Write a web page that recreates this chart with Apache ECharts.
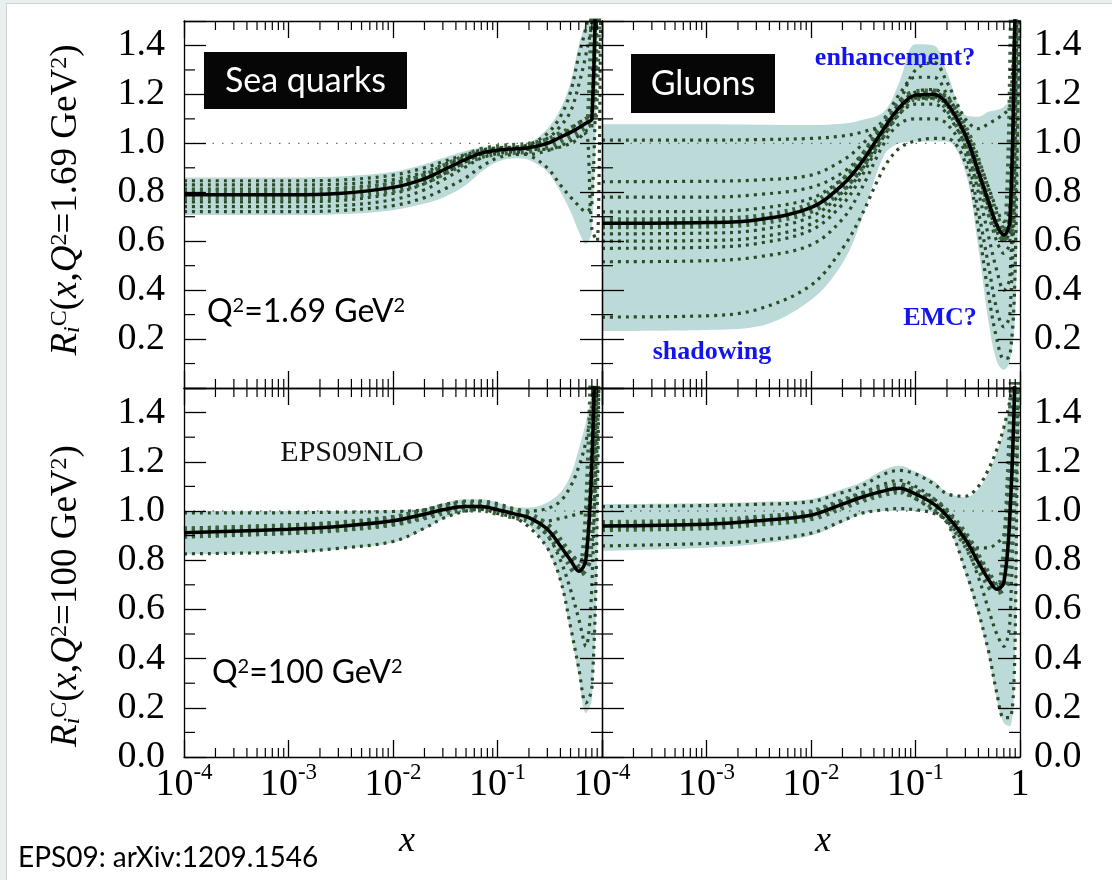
<!DOCTYPE html>
<html><head><meta charset="utf-8">
<script src="https://cdn.jsdelivr.net/npm/echarts@6/dist/echarts.min.js"></script>
<style>
html,body{margin:0;padding:0;background:#e9eeee;}
#bg{position:absolute;left:6px;top:3px;width:1106px;height:877px;background:#fff;border-left:1px solid #cdd5d5;border-top:1px solid #cdd5d5;}
#c{position:absolute;left:0;top:0;width:1112px;height:880px;}
</style>
</head><body><div id="bg"></div><div id="c"></div>
<script>
// ---------------- data ----------------
const xs = [1e-4, 1e-3, 3e-3, 0.01, 0.02, 0.03, 0.05, 0.07, 0.1, 0.15, 0.2, 0.3, 0.4, 0.5, 0.6, 0.7, 0.8, 0.9, 1.0];

// Sea quarks, Q^2 = 1.69 GeV^2
const tlCentral = [0.79, 0.79, 0.795, 0.82, 0.855, 0.89, 0.935, 0.96, 0.972, 0.978, 0.982, 1.0, 1.025, 1.045, 1.064, 1.082, 1.1, 2.0, 3.0];
const tlUpper   = [0.86, 0.86, 0.864, 0.884, 0.915, 0.94, 0.97, 0.982, 0.988, 0.99, 1.0, 1.06, 1.14, 1.25, 1.4, 1.5, 1.6, 2.0, 3.0];
const tlLower   = [0.707, 0.707, 0.71, 0.727, 0.754, 0.778, 0.83, 0.884, 0.925, 0.939, 0.932, 0.884, 0.802, 0.721, 0.639, 0.59, 0.64, 1.4, 2.5];
const tlSets = [
  [0.847, 0.847, 0.85, 0.87, 0.9, 0.925, 0.955, 0.972, 0.982, 0.985, 0.995, 1.04, 1.11, 1.21, 1.36, 1.47, 1.6, 2.0, 3.0],
  [0.83, 0.83, 0.833, 0.852, 0.882, 0.912, 0.946, 0.966, 0.977, 0.982, 0.99, 1.02, 1.07, 1.13, 1.24, 1.36, 1.5, 2.0, 3.0],
  [0.813, 0.813, 0.817, 0.838, 0.868, 0.9, 0.94, 0.963, 0.975, 0.98, 0.985, 1.005, 1.035, 1.06, 1.085, 1.1, 1.13, 2.0, 3.0],
  [0.761, 0.761, 0.766, 0.795, 0.835, 0.873, 0.925, 0.955, 0.968, 0.975, 0.975, 0.975, 0.985, 1.0, 1.02, 1.05, 1.07, 2.0, 3.0],
  [0.741, 0.741, 0.745, 0.77, 0.81, 0.85, 0.905, 0.94, 0.958, 0.965, 0.952, 0.9, 0.83, 0.78, 0.745, 0.72, 0.75, 1.6, 3.0],
  [0.721, 0.721, 0.725, 0.745, 0.778, 0.81, 0.86, 0.905, 0.94, 0.955, 0.955, 0.97, 0.99, 1.01, 1.03, 1.04, 0.65, 0.6, 3.0]
];

// Gluons, Q^2 = 1.69 GeV^2
const trCentral = [0.673, 0.676, 0.687, 0.737, 0.83, 0.918, 1.061, 1.146, 1.197, 1.2, 1.163, 1.034, 0.884, 0.761, 0.666, 0.625, 0.68, 1.6, 3.0];
const trUpper   = [1.078, 1.078, 1.076, 1.075, 1.08, 1.094, 1.13, 1.25, 1.405, 1.4, 1.29, 1.116, 1.109, 1.129, 1.136, 1.15, 1.18, 1.6, 3.0];
const trLower   = [0.233, 0.237, 0.25, 0.36, 0.51, 0.68, 0.95, 1.0, 1.007, 1.007, 1.007, 0.884, 0.571, 0.271, 0.108, 0.074, 0.108, 0.3, 1.0];
const trSets = [
  [1.013, 1.013, 1.015, 1.02, 1.03, 1.045, 1.08, 1.17, 1.3, 1.33, 1.25, 1.1, 1.06, 1.08, 1.1, 1.12, 1.15, 1.6, 3.0],
  [0.843, 0.845, 0.85, 0.87, 0.93, 0.99, 1.1, 1.2, 1.27, 1.27, 1.2, 1.06, 0.93, 0.82, 0.73, 0.68, 0.73, 1.6, 3.0],
  [0.78, 0.78, 0.79, 0.82, 0.88, 0.95, 1.08, 1.16, 1.21, 1.22, 1.18, 1.05, 0.9, 0.78, 0.68, 0.64, 0.7, 1.6, 3.0],
  [0.72, 0.722, 0.733, 0.775, 0.855, 0.93, 1.065, 1.15, 1.2, 1.21, 1.17, 1.04, 0.89, 0.77, 0.67, 0.63, 0.69, 1.6, 3.0],
  [0.63, 0.633, 0.645, 0.7, 0.8, 0.9, 1.055, 1.14, 1.19, 1.19, 1.155, 1.025, 0.87, 0.74, 0.64, 0.6, 0.65, 1.6, 3.0],
  [0.6, 0.603, 0.615, 0.67, 0.78, 0.885, 1.05, 1.135, 1.185, 1.185, 1.15, 1.015, 0.85, 0.71, 0.6, 0.55, 0.6, 1.6, 3.0],
  [0.571, 0.575, 0.59, 0.645, 0.75, 0.86, 1.03, 1.12, 1.16, 1.16, 1.12, 0.99, 0.8, 0.62, 0.48, 0.4, 0.45, 1.2, 3.0],
  [0.516, 0.52, 0.535, 0.585, 0.69, 0.81, 1.0, 1.08, 1.1, 1.1, 1.08, 0.96, 0.72, 0.5, 0.32, 0.25, 0.3, 1.0, 3.0],
  [0.29, 0.295, 0.32, 0.42, 0.57, 0.7, 0.9, 0.98, 1.01, 1.02, 1.02, 0.92, 0.65, 0.38, 0.2, 0.12, 0.13, 0.5, 2.0]
];

// Sea quarks, Q^2 = 100 GeV^2
const blCentral = [0.912, 0.926, 0.937, 0.96, 0.987, 1.005, 1.018, 1.018, 1.005, 0.987, 0.973, 0.926, 0.858, 0.8, 0.755, 0.8, 1.2, 2.0, 3.0];
const blUpper   = [1.0, 1.0, 1.0, 1.003, 1.01, 1.032, 1.048, 1.048, 1.035, 1.014, 1.014, 1.035, 1.075, 1.144, 1.252, 1.36, 1.48, 1.6, 3.0];
const blLower   = [0.824, 0.831, 0.845, 0.872, 0.926, 0.967, 1.0, 1.008, 0.994, 0.973, 0.94, 0.845, 0.709, 0.505, 0.329, 0.179, 0.236, 0.8, 2.0];
const blSets = [
  [0.992, 0.993, 0.995, 0.998, 1.005, 1.025, 1.04, 1.04, 1.03, 1.008, 1.0, 1.01, 1.04, 1.1, 1.18, 1.28, 1.42, 1.6, 3.0],
  [0.826, 0.833, 0.848, 0.876, 0.93, 0.97, 1.0, 1.006, 0.99, 0.97, 0.935, 0.85, 0.72, 0.53, 0.36, 0.22, 0.28, 1.0, 3.0],
  [0.93, 0.943, 0.953, 0.975, 0.998, 1.012, 1.022, 1.022, 1.008, 0.99, 0.975, 0.96, 0.97, 0.98, 0.99, 1.0, 1.1, 1.6, 3.0],
  [0.895, 0.91, 0.922, 0.945, 0.975, 0.998, 1.014, 1.014, 1.0, 0.98, 0.962, 0.9, 0.8, 0.68, 0.56, 0.45, 0.7, 1.6, 3.0],
  [0.92, 0.934, 0.945, 0.967, 0.992, 1.008, 1.02, 1.02, 1.006, 0.988, 0.972, 0.93, 0.87, 0.83, 0.8, 0.82, 1.3, 2.0, 3.0]
];

// Gluons, Q^2 = 100 GeV^2
const brCentral = [0.939, 0.946, 0.96, 0.983, 1.028, 1.055, 1.082, 1.092, 1.069, 1.028, 0.98, 0.885, 0.79, 0.722, 0.682, 0.709, 0.98, 1.6, 3.0];
const brUpper   = [1.028, 1.032, 1.037, 1.048, 1.089, 1.116, 1.168, 1.184, 1.16, 1.123, 1.075, 1.055, 1.089, 1.157, 1.238, 1.333, 1.456, 1.6, 3.0];
const brLower   = [0.838, 0.851, 0.865, 0.9, 0.953, 0.987, 1.0, 1.0, 1.0, 0.994, 0.95, 0.747, 0.573, 0.41, 0.234, 0.138, 0.125, 0.4, 1.5];
const brSets = [
  [1.018, 1.022, 1.027, 1.038, 1.075, 1.1, 1.15, 1.165, 1.15, 1.11, 1.07, 1.06, 1.1, 1.17, 1.25, 1.34, 1.45, 1.6, 3.0],
  [0.858, 0.868, 0.88, 0.91, 0.96, 0.99, 1.005, 1.01, 1.005, 0.99, 0.955, 0.76, 0.59, 0.43, 0.26, 0.16, 0.16, 0.5, 3.0],
  [0.95, 0.957, 0.97, 0.995, 1.04, 1.07, 1.11, 1.125, 1.1, 1.05, 1.0, 0.9, 0.85, 0.85, 0.87, 0.9, 1.2, 1.6, 3.0],
  [0.93, 0.94, 0.953, 0.975, 1.018, 1.045, 1.07, 1.08, 1.05, 1.0, 0.96, 0.86, 0.73, 0.6, 0.5, 0.45, 0.55, 1.4, 3.0],
  [0.943, 0.95, 0.963, 0.987, 1.03, 1.058, 1.09, 1.1, 1.08, 1.035, 0.99, 0.9, 0.81, 0.74, 0.7, 0.72, 1.0, 1.6, 3.0]
];

// axis ticks
const xDecades = [-4, -3, -2, -1];
const xMinorMultipliers = [2, 3, 4, 5, 6, 7, 8, 9];
const yMinorTicks = [0.1, 0.3, 0.5, 0.7, 0.9, 1.1, 1.3];
const refLevel = 1.0;
const X_MIN = -4, X_MAX = 0, Y_MIN = 0, Y_MAX = 1.5;

// ---------------- styling ----------------
const DG = '#2b4a2b';
const HATCH = '#3a623f';
const BAND = '#bcdad7';
const SERIF = '"Liberation Serif", "Times New Roman", serif';
const SANS = 'Lato, "Open Sans", sans-serif';

const panels = [
  {c: tlCentral, hi: tlUpper, lo: tlLower, sets: tlSets},
  {c: trCentral, hi: trUpper, lo: trLower, sets: trSets},
  {c: blCentral, hi: blUpper, lo: blLower, sets: blSets},
  {c: brCentral, hi: brUpper, lo: brLower, sets: brSets}
];
const gridPos = [
  {left: 184, top: 21, width: 418, height: 367},
  {left: 602, top: 21, width: 418, height: 367},
  {left: 184, top: 388, width: 418, height: 369},
  {left: 602, top: 388, width: 418, height: 369}
];

const lx = x => Math.log10(x);
const pts = arr => xs.map((x, i) => [lx(x), arr[i]]);
const xMinor = [];
xDecades.forEach(d => xMinorMultipliers.forEach(k => xMinor.push([d + Math.log10(k), 0])));

const grids = gridPos.map(g => Object.assign({containLabel: false, outerBoundsMode: 'none'}, g));
const xAxes = [], yAxes = [], series = [];
const axisLine = {show: true, onZero: false, lineStyle: {color: '#000', width: 1.3}};

gridPos.forEach((g, gi) => {
  const isLeft = gi % 2 === 0, isBottom = gi >= 2;
  ['bottom', 'top'].forEach(pos => {
    xAxes.push({
      type: 'value', gridIndex: gi, position: pos, min: X_MIN, max: X_MAX, interval: 1, z: 20,
      axisLine, splitLine: {show: false},
      axisTick: {show: true, inside: true, length: 17, lineStyle: {color: '#000', width: 1.3}},
      axisLabel: {
        show: pos === 'bottom' && isBottom, margin: 4, color: '#000',
        fontFamily: SERIF, fontSize: 38,
        formatter: v => {
          if (v === 0) return isLeft ? '' : '{b|1}';
          return '{b|10}{s|' + v + '}';
        },
        rich: {
          b: {fontFamily: SERIF, fontSize: 38, lineHeight: 48, color: '#000'},
          s: {fontFamily: SERIF, fontSize: 23, lineHeight: 23, verticalAlign: 'top', color: '#000'}
        }
      }
    });
  });
  ['left', 'right'].forEach(pos => {
    yAxes.push({
      type: 'value', gridIndex: gi, position: pos, min: Y_MIN, max: Y_MAX, interval: 0.2, z: 20,
      axisLine, splitLine: {show: false},
      axisTick: {show: true, inside: true, length: 22, lineStyle: {color: '#000', width: 1.3}},
      axisLabel: {
        show: (pos === 'left') === isLeft, margin: pos === 'left' ? 19 : 14, color: '#000',
        fontFamily: SERIF, fontSize: 38,
        formatter: v => (v > 1.45 || (!isBottom && v < 0.05)) ? '' : v.toFixed(1)
      }
    });
  });
  const xi = gi * 2, yi = gi * 2;
  const P = panels[gi];
  const common = {xAxisIndex: xi, yAxisIndex: yi, symbol: 'none', showSymbol: false, smooth: 0.35, silent: true, animation: false, clip: true};
  // band: fill below upper edge, then mask below lower edge with white
  series.push(Object.assign({}, common, {type: 'line', data: pts(P.hi),
    lineStyle: {width: 0, opacity: 0}, areaStyle: {color: BAND, opacity: 1, origin: 'start'}, z: 1}));
  series.push(Object.assign({}, common, {type: 'line', data: pts(P.lo),
    lineStyle: {width: 0, opacity: 0}, areaStyle: {color: '#ffffff', opacity: 1, origin: 'start'}, z: 2}));
  // reference line at 1.0
  series.push(Object.assign({}, common, {type: 'line', smooth: false, data: [[X_MIN, refLevel], [X_MAX, refLevel]],
    lineStyle: {color: '#6f6f6f', width: 1.4, type: [1.5, 8]}, z: 3}));
  // error sets
  P.sets.forEach(s => series.push(Object.assign({}, common, {type: 'line', data: pts(s),
    lineStyle: {color: DG, width: 3.2, type: [3, 5]}, z: 4})));
  // hatch around central
  series.push(Object.assign({}, common, {type: 'line', data: pts(P.c),
    lineStyle: {color: HATCH, width: 12, type: [3, 5], cap: 'butt'}, z: 5}));
  // central
  series.push(Object.assign({}, common, {type: 'line', data: pts(P.c),
    lineStyle: {color: '#000', width: 3.5}, z: 6}));
  // minor ticks
  series.push({type: 'custom', xAxisIndex: xi, yAxisIndex: yi, silent: true, animation: false, z: 21,
    data: xMinor,
    renderItem: (params, api) => {
      const b = api.coord([api.value(0), Y_MIN]);
      const t = api.coord([api.value(0), Y_MAX]);
      return {type: 'group', children: [
        {type: 'line', shape: {x1: b[0], y1: b[1], x2: b[0], y2: b[1] - 9}, style: {stroke: '#000', lineWidth: 1.2}},
        {type: 'line', shape: {x1: t[0], y1: t[1], x2: t[0], y2: t[1] + 9}, style: {stroke: '#000', lineWidth: 1.2}}
      ]};
    }});
  series.push({type: 'custom', xAxisIndex: xi, yAxisIndex: yi, silent: true, animation: false, z: 21,
    data: yMinorTicks.map(v => [X_MIN, v]),
    renderItem: (params, api) => {
      const l = api.coord([X_MIN, api.value(1)]);
      const r = api.coord([X_MAX, api.value(1)]);
      return {type: 'group', children: [
        {type: 'line', shape: {x1: l[0], y1: l[1], x2: l[0] + 11, y2: l[1]}, style: {stroke: '#000', lineWidth: 1.2}},
        {type: 'line', shape: {x1: r[0], y1: r[1], x2: r[0] - 11, y2: r[1]}, style: {stroke: '#000', lineWidth: 1.2}}
      ]};
    }});
});

function txt(x, y, text, opts) {
  const st = Object.assign({text: text, fill: '#000', align: 'center', verticalAlign: 'middle',
    textAlign: 'center', textVerticalAlign: 'middle'}, opts.style || {});
  return Object.assign({type: 'text', x: x, y: y, z: 100, silent: true, style: st}, opts.el || {});
}
const titleRich = {
  it: {fontFamily: SERIF, fontStyle: 'italic', fontSize: 37, color: '#000'},
  n: {fontFamily: SERIF, fontSize: 37, color: '#000'},
  sup: {fontFamily: SERIF, fontSize: 24, verticalAlign: 'top', color: '#000'},
  sub: {fontFamily: SERIF, fontStyle: 'italic', fontSize: 24, verticalAlign: 'bottom', color: '#000'}
};
const qRich = {
  n: {fontFamily: SANS, fontSize: 32, color: '#000'},
  s: {fontFamily: SANS, fontSize: 20, verticalAlign: 'top', color: '#000'}
};
const blue = {font: 'bold 26px ' + SERIF, fill: '#1414ee'};

const graphic = [
  txt(66, 200, '{it|R}{sub|i}{sup|C}{n|(}{it|x}{n|,}{it|Q}{sup|2}{n|=1.69 GeV}{sup|2}{n|)}', {el: {rotation: Math.PI / 2}, style: {rich: titleRich}}),
  txt(66, 596, '{it|R}{sub|i}{sup|C}{n|(}{it|x}{n|,}{it|Q}{sup|2}{n|=100 GeV}{sup|2}{n|)}', {el: {rotation: Math.PI / 2}, style: {rich: titleRich}}),
  txt(407, 842, 'x', {style: {font: 'italic 36px ' + SERIF}}),
  txt(823, 842, 'x', {style: {font: 'italic 36px ' + SERIF}}),
  txt(18, 858, 'EPS09: arXiv:1209.1546', {style: {font: '28px ' + SANS, align: 'left', textAlign: 'left'}}),
  {type: 'rect', z: 99, silent: true, shape: {x: 204, y: 52, width: 203, height: 57}, style: {fill: '#060606'}},
  txt(305.5, 81, 'Sea quarks', {style: {font: '34px ' + SANS, fill: '#fff'}}),
  {type: 'rect', z: 99, silent: true, shape: {x: 631, y: 54, width: 144, height: 59}, style: {fill: '#060606'}},
  txt(703, 84, 'Gluons', {style: {font: '34px ' + SANS, fill: '#fff'}}),
  txt(207, 312, '{n|Q}{s|2}{n|=1.69 GeV}{s|2}', {style: {rich: qRich, align: 'left', textAlign: 'left'}}),
  txt(212, 673, '{n|Q}{s|2}{n|=100 GeV}{s|2}', {style: {rich: qRich, align: 'left', textAlign: 'left'}}),
  txt(352, 453, 'EPS09NLO', {style: {font: '30px ' + SERIF, fill: '#111'}}),
  txt(895, 58, 'enhancement?', {style: blue}),
  txt(940, 318, 'EMC?', {style: blue}),
  txt(712, 352, 'shadowing', {style: blue})
];

const chart = echarts.init(document.getElementById('c'), null, {renderer: 'canvas'});
chart.setOption({
  animation: false,
  backgroundColor: 'transparent',
  grid: grids,
  xAxis: xAxes,
  yAxis: yAxes,
  series: series,
  graphic: graphic
});
</script>
</body></html>
